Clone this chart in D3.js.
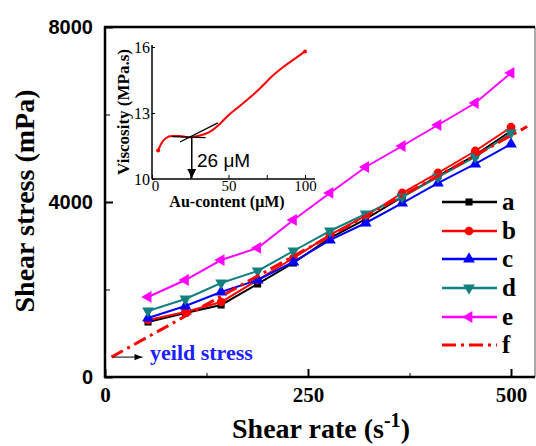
<!DOCTYPE html>
<html>
  <head>
    <meta charset="utf-8">
    <title>Shear Stress vs Shear Rate</title>
    <script src="https://d3js.org/d3.v7.min.js"></script>
    <style>
      body { margin: 0; background: #fff; }
    </style>
  </head>
  <body>
    <script>
      // Shear rate values (s^-1) shared by all measured series
      var shearRate = [53, 99, 143, 188, 232, 277, 321, 366, 410, 456, 500];

      // Shear stress (mPa) for each sample
      var seriesA = [1257, 1463, 1646, 2126, 2606, 3177, 3611, 4114, 4594, 5074, 5623];
      var seriesB = [1303, 1486, 1714, 2217, 2720, 3246, 3680, 4206, 4663, 5166, 5710];
      var seriesC = [1349, 1623, 1943, 2217, 2629, 3131, 3520, 3977, 4434, 4869, 5326];
      var seriesD = [1509, 1783, 2149, 2423, 2880, 3337, 3726, 4114, 4571, 5029, 5577];
      var seriesE = [1829, 2217, 2674, 2949, 3589, 4206, 4800, 5280, 5760, 6263, 6950];

      // Linear fit (dash-dot), its intercept gives the yield stress
      var fitRate = [8, 520];
      var fitStress = [455, 5725];

      var labels = ["a", "b", "c", "d", "e", "f"];
      var yTicks = [0, 4000, 8000];
      var xTicks = [0, 250, 500];

      // Inset: viscosity vs Au content
      var auContent = [4, 6, 9, 13, 18, 25, 30, 38, 45, 50, 57, 64, 71, 79, 86, 93, 100];
      var viscosity = [11.3, 11.6, 11.85, 11.95, 11.95, 11.9, 11.95, 12.15, 12.55, 12.9, 13.3, 13.7, 14.15, 14.7, 15.1, 15.45, 15.8];
      var tangentFlat = [[13, 11.93], [35, 11.88]];
      var tangentRise = [[18.3, 11.68], [43, 12.55]];
      var criticalAu = 26;
      var insetYTicks = [10, 13, 16];
      var insetXTicks = [0, 50, 100];

      var serif = "'Liberation Serif', 'Times New Roman', serif";
      var sans = "'Liberation Sans', Arial, sans-serif";

      var margin = {top: 27, right: 1, bottom: 69, left: 105};
      var width = 536 - margin.left - margin.right;
      var height = 446 - margin.top - margin.bottom;

      var svg = d3.select("body")
                  .append("svg")
                  .attr("width", 536)
                  .attr("height", 446);

      var defs = svg.append("defs");

      var g = svg.append("g")
                 .attr("transform", "translate(" + margin.left + "," + margin.top + ")");

      var x = d3.scaleLinear().domain([0, 500]).range([0, 406]);
      var y = d3.scaleLinear().domain([0, 8000]).range([height, 0]);

      // Minor ticks
      g.append("g")
       .call(d3.axisLeft(y).tickValues([2000, 6000]).tickSize(-5).tickFormat(""))
       .call(function(s) { s.select(".domain").remove(); });
      g.append("g")
       .attr("transform", "translate(0," + height + ")")
       .call(d3.axisBottom(x).tickValues([125, 375]).tickSize(-4).tickFormat(""))
       .call(function(s) { s.select(".domain").remove(); });

      // Major y axis
      var yAxis = g.append("g")
                   .call(d3.axisLeft(y).tickValues(yTicks).tickSize(-8).tickPadding(12).tickFormat(d3.format("d")));
      yAxis.select(".domain").remove();
      yAxis.selectAll("line").attr("stroke-width", 2);
      yAxis.selectAll("text")
           .style("font-family", sans)
           .style("font-weight", "bold")
           .style("font-size", "20px")
           .attr("fill", "#000");

      // Major x axis
      var xAxis = g.append("g")
                   .attr("transform", "translate(0," + height + ")")
                   .call(d3.axisBottom(x).tickValues(xTicks).tickSize(-8).tickPadding(10));
      xAxis.select(".domain").remove();
      xAxis.selectAll("line").attr("stroke-width", 2);
      xAxis.selectAll("text")
           .style("font-family", serif)
           .style("font-weight", "bold")
           .style("font-size", "21px")
           .attr("fill", "#000");

      // Frame
      g.append("line").attr("x1", width).attr("x2", width).attr("y1", 0).attr("y2", height)
       .attr("stroke", "#555").attr("stroke-width", 1);
      g.append("line").attr("x1", -1).attr("x2", width).attr("y1", 0).attr("y2", 0)
       .attr("stroke", "#000").attr("stroke-width", 2.5);
      g.append("line").attr("x1", 0).attr("x2", 0).attr("y1", -1).attr("y2", height + 1)
       .attr("stroke", "#000").attr("stroke-width", 2.5);
      g.append("line").attr("x1", -1).attr("x2", width).attr("y1", height).attr("y2", height)
       .attr("stroke", "#000").attr("stroke-width", 2.5);

      // Axis titles
      svg.append("text")
         .attr("transform", "translate(34,201) rotate(-90)")
         .attr("text-anchor", "middle")
         .style("font-family", serif)
         .style("font-weight", "bold")
         .style("font-size", "28px")
         .text("Shear stress (mPa)");

      var xt = svg.append("text")
                  .attr("x", 321)
                  .attr("y", 438)
                  .attr("text-anchor", "middle")
                  .style("font-family", serif)
                  .style("font-weight", "bold")
                  .style("font-size", "28px");
      xt.append("tspan").text("Shear rate (s");
      xt.append("tspan").attr("dy", -11).style("font-size", "20px").text("-1");
      xt.append("tspan").attr("dy", 11).text(")");

      var symbols = {
        square: d3.symbol().type(d3.symbolSquare).size(50),
        circle: d3.symbol().type(d3.symbolCircle).size(60),
        tri: d3.symbol().type(d3.symbolTriangle).size(60)
      };

      // rot turns the triangle: 0 up, 180 down, -90 left
      var series = [
        { name: "a", values: seriesA, color: "#000000", marker: "square", rot: 0 },
        { name: "b", values: seriesB, color: "#ff0000", marker: "circle", rot: 0 },
        { name: "c", values: seriesC, color: "#0000ff", marker: "tri", rot: 0 },
        { name: "d", values: seriesD, color: "#128080", marker: "tri", rot: 180 },
        { name: "e", values: seriesE, color: "#ff00ff", marker: "tri", rot: -90 }
      ];

      var line = d3.line()
                   .x(function(d) { return x(d[0]); })
                   .y(function(d) { return y(d[1]); });

      series.forEach(function(s) {
        var pts = d3.zip(shearRate, s.values);
        g.append("path")
         .datum(pts)
         .attr("fill", "none")
         .attr("stroke", s.color)
         .attr("stroke-width", 2)
         .attr("d", line);
        g.selectAll(".m-" + s.name)
         .data(pts)
         .enter()
         .append("path")
         .attr("class", "m-" + s.name)
         .attr("d", symbols[s.marker]())
         .attr("transform", function(d) { return "translate(" + x(d[0]) + "," + y(d[1]) + ") rotate(" + s.rot + ")"; })
         .attr("fill", s.color);
      });

      // Fit line
      g.append("path")
       .datum(d3.zip(fitRate, fitStress))
       .attr("fill", "none")
       .attr("stroke", "#ff0000")
       .attr("stroke-width", 3)
       .attr("stroke-dasharray", "13,5,3,5")
       .attr("d", line);

      // Yield stress arrow and label
      defs.append("marker")
          .attr("id", "head")
          .attr("viewBox", "0 0 10 10")
          .attr("refX", 10).attr("refY", 5)
          .attr("markerWidth", 8).attr("markerHeight", 8)
          .attr("markerUnits", "userSpaceOnUse")
          .attr("orient", "auto")
          .append("path").attr("d", "M0,1 L10,5 L0,9 Z").attr("fill", "#000");

      g.append("line")
       .attr("x1", x(fitRate[0]) + 2).attr("x2", x(fitRate[0]) + 31)
       .attr("y1", y(fitStress[0])).attr("y2", y(fitStress[0]))
       .attr("stroke", "#000").attr("stroke-width", 1)
       .attr("marker-end", "url(#head)");

      svg.append("text")
         .attr("x", 150).attr("y", 360)
         .attr("fill", "#2020ff")
         .style("font-family", serif)
         .style("font-weight", "bold")
         .style("font-size", "22px")
         .text("yeild stress");

      // Legend
      var legend = svg.append("g");
      var rowY = [202, 231, 259, 288, 317, 345];
      labels.forEach(function(lab, i) {
        var row = legend.append("g").attr("transform", "translate(0," + rowY[i] + ")");
        if (i < series.length) {
          var s = series[i];
          row.append("line").attr("x1", 442).attr("x2", 497).attr("y1", 0).attr("y2", 0)
             .attr("stroke", s.color).attr("stroke-width", 2.5);
          row.append("path").attr("d", symbols[s.marker]())
             .attr("transform", "translate(469,0) rotate(" + s.rot + ")")
             .attr("fill", s.color);
        } else {
          row.append("line").attr("x1", 442).attr("x2", 497).attr("y1", 0).attr("y2", 0)
             .attr("stroke", "#ff0000").attr("stroke-width", 3)
             .attr("stroke-dasharray", "14,5,3,5");
        }
        row.append("text")
           .attr("x", 502).attr("y", 8)
           .style("font-family", serif)
           .style("font-weight", "bold")
           .style("font-size", "25px")
           .text(lab);
      });

      // Inset chart
      var ix = d3.scaleLinear().domain([0, 100]).range([152, 305]);
      var iy = d3.scaleLinear().domain([10, 16]).range([179, 47]);

      var inset = svg.append("g");

      var ixAxis = inset.append("g")
                        .attr("transform", "translate(0," + iy(10) + ")")
                        .call(d3.axisBottom(ix).tickValues([0, 25, 50, 75, 100]).tickSize(-4).tickPadding(1)
                                .tickFormat(function(d) { return insetXTicks.indexOf(d) >= 0 ? d : ""; }));
      ixAxis.select(".domain").attr("d", "M152,0H315").attr("stroke-width", 1.5);
      ixAxis.selectAll("text").style("font-family", serif).style("font-size", "15px").attr("fill", "#000");
      // keep the "0" clear of the "10" beside it
      ixAxis.selectAll("text").filter(function(d) { return d === 0; }).attr("dx", 3);

      var iyAxis = inset.append("g")
                        .attr("transform", "translate(" + ix(0) + ",0)")
                        .call(d3.axisLeft(iy).tickValues(insetYTicks).tickSize(-3).tickPadding(2)
                                .tickFormat(d3.format("d")));
      iyAxis.select(".domain").attr("d", "M0,179V45").attr("stroke-width", 1.5);
      iyAxis.selectAll("text").style("font-family", serif).style("font-size", "16px").attr("fill", "#000");

      var iline = d3.line()
                    .curve(d3.curveMonotoneX)
                    .x(function(d) { return ix(d[0]); })
                    .y(function(d) { return iy(d[1]); });

      var ipts = d3.zip(auContent, viscosity);
      inset.append("path")
           .datum(ipts)
           .attr("fill", "none")
           .attr("stroke", "#ff0000")
           .attr("stroke-width", 2)
           .attr("d", iline);
      inset.selectAll(".end")
           .data([ipts[0], ipts[ipts.length - 1]])
           .enter()
           .append("circle")
           .attr("cx", function(d) { return ix(d[0]); })
           .attr("cy", function(d) { return iy(d[1]); })
           .attr("r", 2)
           .attr("fill", "#ff0000");

      // Tangents and critical concentration
      [tangentFlat, tangentRise].forEach(function(t) {
        inset.append("path")
             .datum(t)
             .attr("fill", "none")
             .attr("stroke", "#000")
             .attr("stroke-width", 1.3)
             .attr("d", d3.line().x(function(d) { return ix(d[0]); }).y(function(d) { return iy(d[1]); }));
      });

      defs.append("marker")
          .attr("id", "down")
          .attr("viewBox", "0 0 10 10")
          .attr("refX", 10).attr("refY", 5)
          .attr("markerWidth", 10).attr("markerHeight", 9)
          .attr("markerUnits", "userSpaceOnUse")
          .attr("orient", "auto")
          .append("path").attr("d", "M0,0 L10,5 L0,10 Z").attr("fill", "#000");

      inset.append("line")
           .attr("x1", ix(criticalAu)).attr("x2", ix(criticalAu))
           .attr("y1", iy(11.9)).attr("y2", iy(10) - 1)
           .attr("stroke", "#000").attr("stroke-width", 1.5)
           .attr("marker-end", "url(#down)");

      inset.append("text")
           .attr("x", 197).attr("y", 167)
           .style("font-family", sans)
           .style("font-size", "19px")
           .text(criticalAu + " \u03bcM");

      inset.append("text")
           .attr("transform", "translate(129,112) rotate(-90)")
           .attr("text-anchor", "middle")
           .style("font-family", serif)
           .style("font-weight", "bold")
           .style("font-size", "17px")
           .text("Viscosity (MPa.s)");

      inset.append("text")
           .attr("x", 227).attr("y", 207)
           .attr("text-anchor", "middle")
           .style("font-family", serif)
           .style("font-weight", "bold")
           .style("font-size", "16px")
           .text("Au-content (\u03bcM)");
    </script>
  </body>
</html>
